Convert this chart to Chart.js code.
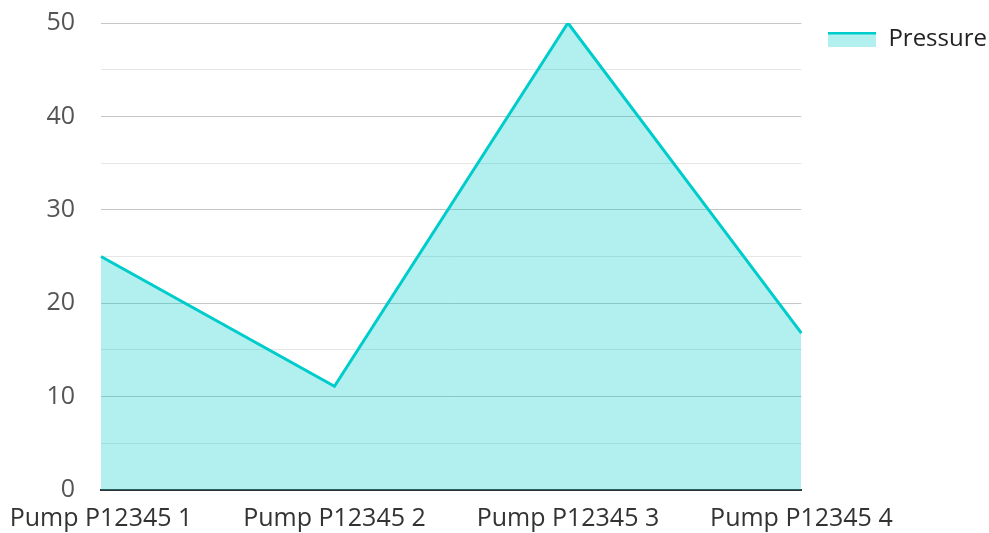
<!DOCTYPE html>
<html>
<head>
<meta charset="utf-8">
<script src="https://cdn.jsdelivr.net/npm/chart.js@4"></script>
<style>
  html, body { margin: 0; padding: 0; background: #fff; }
  #wrap { width: 989px; height: 533px; }
</style>
</head>
<body>
<div id="wrap"><canvas id="pressure_chart"></canvas></div>
<script>
// pump pressure chart
const categories = ['Pump P12345 1', 'Pump P12345 2', 'Pump P12345 3', 'Pump P12345 4'];
const pressure = [25, 11.1, 50, 16.8];
const yTicks = [0, 10, 20, 30, 40, 50];

const lineColor = '#00cccc';
const fillColor = 'rgba(0, 204, 204, 0.3)';

// legend swatch: line on top, fill below
let swatch = document.createElement('canvas');
swatch.width = 48;
swatch.height = 15;
let sctx = swatch.getContext('2d');
sctx.fillStyle = '#b2f0f0';
sctx.fillRect(0, 0, 48, 15);
sctx.fillStyle = lineColor;
sctx.fillRect(0, 0, 48, 3);

Chart.defaults.font.family = '"Open Sans", "Noto Sans", sans-serif';
Chart.defaults.font.size = 25;
Chart.defaults.color = '#444';

let ctx = document.getElementById('pressure_chart');

let data = {
    labels: categories,
    datasets: [{
        label: 'Pressure',
        data: pressure,
        borderColor: lineColor,
        backgroundColor: fillColor,
        borderWidth: 3,
        fill: 'origin',
        tension: 0,
        pointRadius: 0,
        pointHoverRadius: 0
    }]
};

let options = {
    maintainAspectRatio: false,
    responsive: true,
    animation: false,
    layout: { padding: { left: 0, top: 0, right: -8, bottom: 0 } },
    plugins: {
        legend: {
            display: true,
            position: 'right',
            align: 'start',
            labels: {
                usePointStyle: true,
                pointStyle: swatch,
                pointStyleWidth: 48,
                boxHeight: 15,
                color: '#222',
                padding: 27,
                font: { size: 24 }
            }
        },
        tooltip: { enabled: false }
    },
    scales: {
        x: {
            offset: false,
            grid: { display: false, drawTicks: false },
            border: { display: true, color: '#333', width: 2 },
            ticks: { padding: 14, color: '#333', maxRotation: 0 },
            afterFit(scale) {
                scale.paddingLeft = 101;
                scale.paddingRight = 187;
                scale.height = 43;
            }
        },
        y: {
            min: 0,
            max: 50,
            grid: {
                drawTicks: false,
                color: (c) => (c.tick && c.tick.value % 10 === 0) ? '#c6c6c6' : '#e6e6e6'
            },
            border: { display: false },
            ticks: {
                stepSize: 5,
                padding: 26,
                color: '#555',
                callback: (v) => yTicks.includes(v) ? v : ''
            },
            // keep label padding from pushing the plot down
            afterFit(scale) {
                scale.paddingTop = 23;
                scale.paddingBottom = 0;
            }
        }
    }
};

let pressureChart = new Chart(ctx, {
    type: 'line',
    data: data,
    options: options
});
</script>
</body>
</html>
